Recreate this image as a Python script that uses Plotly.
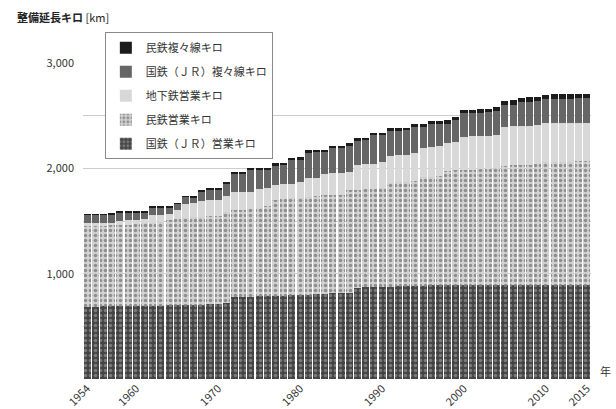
import plotly.graph_objects as go

years = list(range(1954, 2016))

# Cumulative tops of each stacked layer (km)
total = [1565, 1565, 1566, 1567, 1587, 1588, 1589, 1590, 1635, 1637,
         1638, 1670, 1736, 1738, 1793, 1812, 1814, 1872, 1959, 1960,
         2002, 2004, 2006, 2049, 2051, 2101, 2103, 2173, 2175, 2177,
         2213, 2215, 2239, 2287, 2290, 2337, 2340, 2381, 2383, 2385,
         2419, 2421, 2451, 2453, 2455, 2490, 2555, 2558, 2560, 2562,
         2578, 2640, 2645, 2671, 2673, 2675, 2700, 2701, 2702, 2703,
         2704, 2705]
subway_top = [1478, 1480, 1482, 1485, 1500, 1505, 1510, 1515, 1555, 1560,
              1570, 1600, 1660, 1668, 1690, 1698, 1700, 1740, 1775, 1778,
              1780, 1800, 1810, 1845, 1850, 1855, 1875, 1905, 1910, 1950,
              1955, 1958, 1962, 2030, 2040, 2045, 2060, 2120, 2125, 2130,
              2150, 2190, 2200, 2210, 2240, 2252, 2300, 2305, 2308, 2310,
              2320, 2395, 2400, 2402, 2405, 2410, 2428, 2429, 2430, 2431,
              2432, 2433]
private_top = [1450, 1452, 1455, 1458, 1460, 1465, 1470, 1478, 1485, 1495,
               1505, 1515, 1525, 1535, 1540, 1545, 1550, 1590, 1600, 1605,
               1610, 1625, 1640, 1700, 1710, 1715, 1720, 1725, 1735, 1745,
               1748, 1750, 1790, 1795, 1800, 1805, 1810, 1860, 1870, 1875,
               1880, 1915, 1920, 1925, 1975, 1980, 1985, 1988, 1990, 1992,
               2000, 2025, 2030, 2032, 2035, 2040, 2060, 2062, 2063, 2064,
               2065, 2066]
jr_km = [688, 688, 689, 690, 690, 691, 692, 693, 695, 696,
         698, 700, 702, 704, 706, 708, 710, 720, 778, 780,
         782, 784, 786, 788, 790, 795, 800, 802, 805, 810,
         812, 815, 816, 860, 872, 874, 876, 878, 880, 882,
         884, 886, 888, 890, 891, 892, 892, 892, 892, 892,
         892, 892, 892, 892, 892, 892, 892, 892, 892, 892,
         892, 892]
private_quad_km = [8] * 13 + [12] * 9 + [18] * 10 + [25] * 10 + [30] * 9 + [40] * 11

private_km = [b - a for a, b in zip(jr_km, private_top)]
subway_km = [c - b for b, c in zip(private_top, subway_top)]
jr_quad_km = [t - c - q for t, c, q in zip(total, subway_top, private_quad_km)]

x_ticks = [1954, 1960, 1970, 1980, 1990, 2000, 2010, 2015]

FONT = "Noto Sans CJK JP"

# (legend name, values, colour, pattern, legend rank) from the bottom of the stack up
series = [
    ("国鉄（ＪＲ）営業キロ", jr_km, "#4a4a4a",
     dict(shape=".", bgcolor="#444444", fgcolor="#b0b0b0", size=5, solidity=0.4), 5),
    ("民鉄営業キロ", private_km, "#c4c4c4",
     dict(shape=".", bgcolor="#d2d2d2", fgcolor="#4a4a4a", size=5, solidity=0.4), 4),
    ("地下鉄営業キロ", subway_km, "#d8d8d8", None, 3),
    ("国鉄（ＪＲ）複々線キロ", jr_quad_km, "#666666", None, 2),
    ("民鉄複々線キロ", private_quad_km, "#1c1c1c", None, 1),
]

fig = go.Figure()
for i, (name, vals, color, pattern, rank) in enumerate(series):
    marker = dict(color=color, line=dict(width=0))
    if pattern:
        marker["pattern"] = dict(fillmode="overlay", **pattern)
    fig.add_trace(go.Bar(
        x=years, y=vals, name=name, marker=marker,
        legendgroup=f"g{i}", legendrank=rank,
    ))

fig.update_layout(
    width=616, height=409,
    barmode="stack", bargap=0.14,
    plot_bgcolor="white", paper_bgcolor="white",
    margin=dict(l=83, r=25, t=63, b=30),
    font=dict(family=FONT, size=11, color="#333333"),
    legend=dict(
        x=0.043, y=1.097, xanchor="left", yanchor="top",
        bgcolor="white", bordercolor="#8a8a8a", borderwidth=1,
        traceorder="grouped", tracegroupgap=5, itemwidth=30,
        font=dict(family=FONT, size=11, color="#333333"),
    ),
    showlegend=True,
)

fig.update_xaxes(
    range=[1953.5, 2015.5], tickvals=x_ticks, ticktext=[str(v) for v in x_ticks],
    tickangle=-45, showgrid=False, showline=False, zeroline=False, automargin=False,
    tickfont=dict(family=FONT, size=11, color="#333333"),
)
fig.update_yaxes(
    range=[0, 3000], tickvals=[1000, 2000, 3000], ticktext=["1,000", "2,000", "3,000"],
    showgrid=True, gridcolor="#cccccc", gridwidth=1, zeroline=False, showline=False,
    minor=dict(dtick=500, showgrid=True, gridcolor="#cccccc", gridwidth=1),
    ticklabelstandoff=8, automargin=False,
    tickfont=dict(family=FONT, size=11, color="#333333"),
)

fig.add_annotation(
    x=-0.134, y=1.144, xref="paper", yref="paper", xanchor="left", yanchor="middle",
    text="<b>整備延長キロ</b> [km]", showarrow=False,
    font=dict(family=FONT, size=11, color="#222222"),
)
fig.add_annotation(
    x=1.028, y=0.025, xref="paper", yref="paper", xanchor="center", yanchor="middle",
    text="年", showarrow=False,
    font=dict(family=FONT, size=11, color="#333333"),
)

fig.write_html("out.html")
